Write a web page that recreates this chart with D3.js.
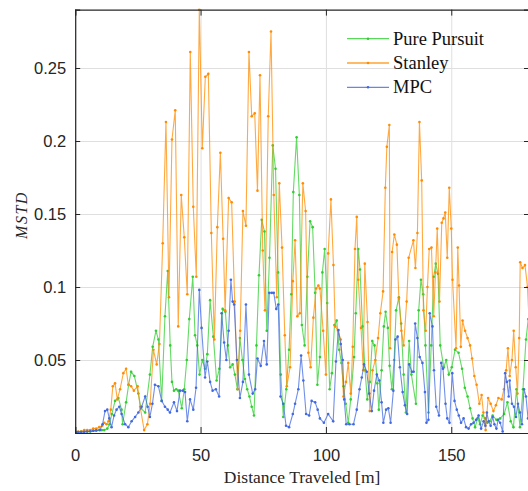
<!DOCTYPE html>
<html>
<head>
<meta charset="utf-8">
<script src="https://cdn.jsdelivr.net/npm/d3@7"></script>
<style>
  body { margin: 0; background: #fff; }
  .tick text { font-family: "Liberation Sans", Arial, sans-serif; font-size: 16.5px; fill: #262626; }
  .grid line { stroke: #dfdfdf; stroke-width: 1; }
  .grid path { stroke: none; }
</style>
</head>
<body>
<div id="chart"></div>
<script>
// distance [m], MSTD
var purePursuit = [[0,0.0005],[1.2,0.0005],[2.4,0.001],[3.6,0.001],[4.8,0.001],[6,0.001],[7.2,0.0015],[8.4,0.0015],[9.6,0.002],[10.6,0.002],[11.6,0.002],[12.8,0.003],[13.7,0.006],[14.6,0.013],[15.9,0.022],[17.2,0.024],[18.5,0.016],[18.9,0.006],[20.3,0.021],[21.3,0.033],[22.3,0.042],[23.6,0.039],[25.2,0.027],[26.2,0.017],[27.9,0.014],[29.8,0.04],[30.9,0.059],[32.2,0.07],[33.2,0.064],[34.5,0.022],[35.8,0.08],[36.9,0.111],[37.9,0.06],[38.6,0.035],[39.4,0.029],[40.3,0.03],[41.1,0.029],[42.5,0.017],[43.5,0.03],[44.5,0.05],[45.5,0.078],[46.9,0.107],[47.8,0.067],[48.7,0.06],[49.6,0.04],[50.7,0.05],[51.8,0.044],[52.7,0.054],[53.8,0.091],[55.1,0.066],[56.4,0.036],[57.5,0.044],[58.8,0.085],[59.9,0.083],[60.9,0.06],[61.8,0.045],[62.8,0.047],[63.7,0.04],[64.7,0.03],[65.7,0.065],[66.7,0.05],[67.7,0.037],[68.6,0.03],[69.5,0.025],[70.4,0.018],[71.3,0.012],[72.3,0.06],[73.3,0.108],[74.4,0.146],[75.5,0.138],[76.4,0.07],[77.5,0.12],[78.8,0.197],[79.9,0.181],[80.9,0.11],[82,0.04],[83,0.011],[84.2,0.03],[85.3,0.057],[86.2,0.095],[87,0.165],[88.3,0.2025],[89.4,0.163],[90.4,0.074],[91.5,0.06],[92.6,0.107],[93.7,0.145],[94.7,0.141],[95.7,0.096],[96.6,0.033],[97.6,0.052],[98.6,0.11],[99.5,0.126],[100.5,0.089],[101.5,0.03],[102.4,0.041],[103.4,0.074],[104.3,0.077],[105.3,0.057],[106.2,0.048],[107,0.032],[107.9,0.02],[108.9,0.007],[109.9,0.023],[111.2,0.052],[111.9,0.082],[112.9,0.126],[113.6,0.112],[114.6,0.073],[115.6,0.043],[116.5,0.023],[117.5,0.035],[118.5,0.063],[119.4,0.06],[120.5,0.034],[121.1,0.016],[122.2,0.043],[123.1,0.073],[123.8,0.083],[124.7,0.072],[125.4,0.046],[126.3,0.03],[127.2,0.05],[128,0.084],[129.1,0.093],[130,0.075],[131,0.04],[131.9,0.014],[133.2,0.063],[134.1,0.04],[135.9,0.02],[137,0.084],[137.9,0.105],[138.8,0.095],[139.7,0.06],[140.9,0.014],[142,0.06],[143,0.107],[143.8,0.116],[144.7,0.109],[145.6,0.06],[147,0.045],[148,0.05],[149,0.04],[150.2,0.045],[151.5,0.057],[152.9,0.055],[154.3,0.044],[155.4,0.031],[156.5,0.025],[157.5,0.017],[158.5,0.01],[159.5,0.004],[160.5,0.01],[161.5,0.006],[162.5,0.012],[163.5,0.01],[164.4,0.007],[165.3,0.008],[166.5,0.012],[168,0.009],[169.5,0.01],[171.1,0.013],[172.4,0.021],[173.7,0.008],[174.8,0.004],[176,0.03],[177.4,0.004],[178.6,0.03],[179.8,0.064],[180.7,0.078]];

var stanley = [[0,0.001],[1.2,0.001],[2.4,0.001],[3.6,0.002],[4.8,0.002],[6,0.002],[7.2,0.003],[8.4,0.003],[9.6,0.004],[10.8,0.005],[11.6,0.007],[12.5,0.006],[13.3,0.008],[14.2,0.016],[15,0.032],[15.9,0.034],[16.8,0.023],[17.9,0.03],[19.2,0.041],[20.3,0.044],[21.2,0.033],[22.3,0.032],[23.4,0.029],[24.9,0.032],[25.9,0.018],[27.5,0.002],[28.8,0.006],[29.9,0.02],[31.2,0.057],[32.5,0.047],[33.6,0.061],[34.9,0.13],[36.2,0.213],[37.4,0.093],[38.6,0.201],[39.9,0.221],[41.1,0.073],[42.3,0.163],[43.5,0.134],[44.7,0.095],[45.9,0.261],[47.1,0.155],[48.3,0.107],[49.5,0.29],[50.7,0.195],[51.9,0.244],[53.1,0.246],[54.3,0.137],[55.5,0.064],[56.7,0.141],[57.9,0.192],[59,0.133],[59.8,0.084],[61.2,0.161],[62.4,0.158],[63.6,0.09],[64.8,0.03],[65.8,0.07],[66.9,0.152],[68.1,0.142],[69.3,0.261],[70.4,0.217],[71.6,0.219],[72.7,0.166],[73.7,0.245],[74.8,0.125],[75.7,0.084],[77,0.217],[78.1,0.275],[79.2,0.163],[80.4,0.093],[81.4,0.171],[82.5,0.127],[83.6,0.067],[84.4,0.032],[85.7,0.045],[86.8,0.104],[87.7,0.132],[88.6,0.08],[89.6,0.082],[90.8,0.171],[91.9,0.152],[93,0.055],[93.9,0.045],[95,0.079],[96.1,0.099],[97,0.101],[97.6,0.099],[98.9,0.07],[100,0.04],[100.9,0.123],[102,0.16],[103,0.115],[103.7,0.073],[104.8,0.07],[105.9,0.064],[107,0.025],[108,0.035],[108.9,0.048],[109.9,0.027],[110.7,0.059],[111.6,0.126],[112.3,0.148],[112.9,0.105],[114,0.072],[114.9,0.043],[115.5,0.116],[116.6,0.076],[117.5,0.015],[118.6,0.043],[119.7,0.05],[120.8,0.065],[121.7,0.082],[122.8,0.097],[123.7,0.168],[124.3,0.196],[125.3,0.211],[125.6,0.058],[126.4,0.124],[127.3,0.136],[128.3,0.129],[129.1,0.092],[130.1,0.07],[131,0.06],[132.2,0.09],[133,0.12],[134.9,0.132],[135.7,0.113],[136.5,0.137],[137.3,0.213],[138.2,0.173],[138.9,0.084],[139.8,0.07],[140.5,0.1],[141.2,0.126],[142.1,0.127],[143,0.08],[143.7,0.11],[144.4,0.14],[145.3,0.09],[146.2,0.144],[146.9,0.147],[147.6,0.151],[148.4,0.12],[149.2,0.168],[150,0.14],[150.5,0.105],[151.9,0.058],[152.6,0.127],[153.1,0.101],[153.8,0.059],[154.5,0.077],[155.5,0.07],[156.5,0.065],[157.5,0.06],[158.3,0.051],[159.2,0.039],[160.1,0.033],[161.2,0.02],[162.1,0.026],[162.8,0.014],[163.7,0.002],[164.7,0.024],[165.7,0.02],[166.8,0.015],[167.8,0.019],[168.8,0.024],[170.1,0.023],[171,0.03],[171.9,0.043],[172.6,0.058],[173.3,0.039],[174.2,0.05],[174.9,0.07],[175.7,0.045],[176.4,0.027],[177.1,0.065],[177.5,0.117],[178.4,0.113],[179.4,0.115],[180.4,0.1],[181.2,0.07]];

var mpc = [[0,0.0005],[1.2,0.0006],[2.4,0.0007],[3.6,0.0008],[4.8,0.001],[6,0.0012],[7.2,0.0015],[8.4,0.0018],[9.9,0.002],[10.9,0.006],[11.9,0.015],[12.8,0.016],[13.6,0.01],[14.5,0.004],[15.5,0.012],[16.5,0.016],[17.6,0.018],[18.5,0.013],[19.9,0.006],[21.2,0.004],[22.5,0.008],[23.9,0.011],[25.2,0.014],[26.5,0.018],[27.9,0.025],[28.9,0.018],[29.8,0.011],[30.8,0.02],[31.8,0.033],[33.2,0.032],[34.5,0.022],[35.8,0.018],[36.9,0.016],[37.8,0.014],[39.4,0.021],[40.6,0.015],[41.8,0.029],[42.9,0.029],[43.8,0.028],[44.7,0.008],[45.8,0.023],[47.1,0.016],[48.2,0.031],[49.5,0.098],[50.4,0.072],[51.8,0.038],[52.7,0.049],[53.8,0.035],[54.8,0.029],[56.1,0.03],[57.4,0.025],[58.4,0.082],[59.4,0.062],[60.3,0.05],[61.2,0.07],[62.1,0.105],[62.8,0.09],[63.4,0.088],[64.5,0.05],[65.7,0.024],[66.9,0.035],[68.1,0.088],[69.3,0.04],[70.8,0.027],[71.8,0.03],[72.7,0.051],[74,0.046],[75.3,0.063],[76.4,0.047],[77.4,0.096],[78.4,0.096],[79.2,0.096],[80.2,0.085],[81,0.088],[81.9,0.025],[83,0.02],[84.1,0.005],[85.3,0.004],[86.8,0.013],[87.7,0.02],[89,0.03],[90.1,0.053],[91,0.036],[92.1,0.013],[93.3,0.012],[94.3,0.022],[95.7,0.021],[96.7,0.016],[97.6,0.01],[99.2,0.007],[100.9,0.013],[102.9,0.008],[104,0.049],[105,0.0705],[105.9,0.061],[106.7,0.05],[107.3,0.023],[108.1,0.006],[109.4,0.006],[111,0.006],[112.3,0.016],[113.4,0.03],[114.3,0.038],[115.2,0.047],[116.3,0.042],[117.3,0.027],[118.3,0.015],[119.2,0.029],[120.3,0.04],[121.3,0.036],[122.2,0.021],[122.9,0.007],[124,0.016],[124.9,0.017],[125.8,0.007],[126.9,0.029],[127.7,0.064],[128.6,0.066],[129.5,0.045],[130.6,0.028],[131.5,0.019],[132.4,0.013],[133.2,0.047],[134.3,0.042],[135,0.042],[135.6,0.075],[136.5,0.065],[137.4,0.052],[138.5,0.048],[139.5,0.028],[140.1,0.007],[140.9,0.009],[141.4,0.082],[142.5,0.073],[143.1,0.043],[144,0.018],[145.1,0.012],[146,0.048],[146.7,0.044],[147.7,0.02],[148.4,0.01],[149.3,0.007],[150.4,0.041],[151.3,0.022],[152.2,0.016],[153,0.012],[153.9,0.007],[154.9,0.01],[155.9,0.004],[156.9,0.003],[157.9,0.006],[158.9,0.007],[159.9,0.009],[160.9,0.012],[161.9,0.003],[162.9,0.008],[163.6,0.005],[164.2,0.014],[164.9,0.008],[165.7,0.005],[166.5,0.011],[167.2,0.006],[168,0.003],[168.7,0.009],[169.5,0.007],[170.5,0.001],[171.5,0.041],[172.2,0.035],[172.9,0.025],[173.3,0.036],[174.2,0.02],[175,0.018],[175.8,0.011],[176.6,0.02],[177.4,0.014],[178.2,0.006],[179,0.03],[179.8,0.025],[180.6,0.01]];

var seriesNames = ["Pure Pursuit", "Stanley", "MPC"];
var seriesColors = ["#32cd32", "#ff8c00", "#4169e1"];
var xTicks = [0, 50, 100, 150];
var yTicks = [0.05, 0.1, 0.15, 0.2, 0.25];

var W = 528, H = 491;
var plotLeft = 75.2, plotRight = 529, plotTop = 9.6, plotBottom = 433;

var svg = d3.select("#chart").append("svg")
    .attr("width", W)
    .attr("height", H);

var x = d3.scaleLinear().domain([0, 181]).range([plotLeft, plotRight]);
var y = d3.scaleLinear().domain([0, 0.29]).range([plotBottom, plotTop]);

// grid
svg.append("g")
    .attr("class", "grid")
    .attr("transform", "translate(0," + plotBottom + ")")
    .call(d3.axisBottom(x).tickValues(xTicks).tickSize(-(plotBottom - plotTop)).tickFormat(""));
svg.append("g")
    .attr("class", "grid")
    .attr("transform", "translate(" + plotLeft + ",0)")
    .call(d3.axisLeft(y).tickValues(yTicks).tickSize(-(plotRight - plotLeft)).tickFormat(""));

svg.append("defs").append("clipPath").attr("id", "plotclip")
  .append("rect")
    .attr("x", plotLeft).attr("y", plotTop - 1)
    .attr("width", plotRight - plotLeft).attr("height", plotBottom - plotTop + 1);

var line = d3.line()
    .x(function(d) { return x(d[0]); })
    .y(function(d) { return y(d[1]); });

var plot = svg.append("g").attr("clip-path", "url(#plotclip)");

[purePursuit, stanley, mpc].forEach(function(data, i) {
    plot.append("path")
        .datum(data)
        .attr("fill", "none")
        .attr("stroke", seriesColors[i])
        .attr("stroke-width", 1.1)
        .attr("stroke-opacity", 0.75)
        .attr("d", line);
    plot.append("g")
        .selectAll("circle")
        .data(data)
        .enter().append("circle")
        .attr("cx", function(d) { return x(d[0]); })
        .attr("cy", function(d) { return y(d[1]); })
        .attr("r", 1.3)
        .attr("fill", seriesColors[i]);
});

// axes (box style, ticks inward)
var fmt = function(d) { return String(d); };

var xAxis = svg.append("g")
    .attr("transform", "translate(0," + plotBottom + ")")
    .call(d3.axisBottom(x).tickValues(xTicks).tickSize(-6).tickPadding(16).tickFormat(fmt));
var yAxis = svg.append("g")
    .attr("transform", "translate(" + plotLeft + ",0)")
    .call(d3.axisLeft(y).tickValues(yTicks).tickSize(-5).tickPadding(9).tickFormat(fmt));
var topAxis = svg.append("g")
    .attr("transform", "translate(0," + plotTop + ")")
    .call(d3.axisTop(x).tickValues(xTicks).tickSize(-6).tickFormat(""));
var rightAxis = svg.append("g")
    .attr("transform", "translate(" + plotRight + ",0)")
    .call(d3.axisRight(y).tickValues(yTicks).tickSize(-5).tickFormat(""));

[xAxis, yAxis, topAxis, rightAxis].forEach(function(a) {
    a.select(".domain").attr("stroke", "#262626").attr("stroke-width", 1.2);
    a.selectAll(".tick line").attr("stroke", "#262626");
});

// labels
svg.append("text")
    .attr("x", (plotLeft + plotRight) / 2)
    .attr("y", 483)
    .attr("text-anchor", "middle")
    .style("font-family", "'Liberation Serif', 'Times New Roman', serif")
    .style("font-size", "17.5px")
    .style("fill", "#262626")
    .text("Distance Traveled [m]");

svg.append("text")
    .attr("transform", "translate(27,215) rotate(-90)")
    .attr("text-anchor", "middle")
    .style("font-family", "'Liberation Serif', 'Times New Roman', serif")
    .style("font-style", "italic")
    .style("font-size", "16px")
    .style("letter-spacing", "1.5px")
    .style("fill", "#262626")
    .text("MSTD");

// legend
var legend = svg.append("g");
seriesNames.forEach(function(name, i) {
    var ly = 38.7 + i * 24.3;
    legend.append("line")
        .attr("x1", 347).attr("x2", 389)
        .attr("y1", ly).attr("y2", ly)
        .attr("stroke", seriesColors[i])
        .attr("stroke-width", 1.3)
        .attr("stroke-opacity", 0.8);
    legend.append("circle")
        .attr("cx", 368).attr("cy", ly).attr("r", 1.3)
        .attr("fill", seriesColors[i]);
    legend.append("text")
        .attr("x", 393).attr("y", ly + 6)
        .style("font-family", "'Liberation Serif', 'Times New Roman', serif")
        .style("font-size", "18.5px")
        .style("fill", "#111")
        .text(name);
});
</script>
</body>
</html>
